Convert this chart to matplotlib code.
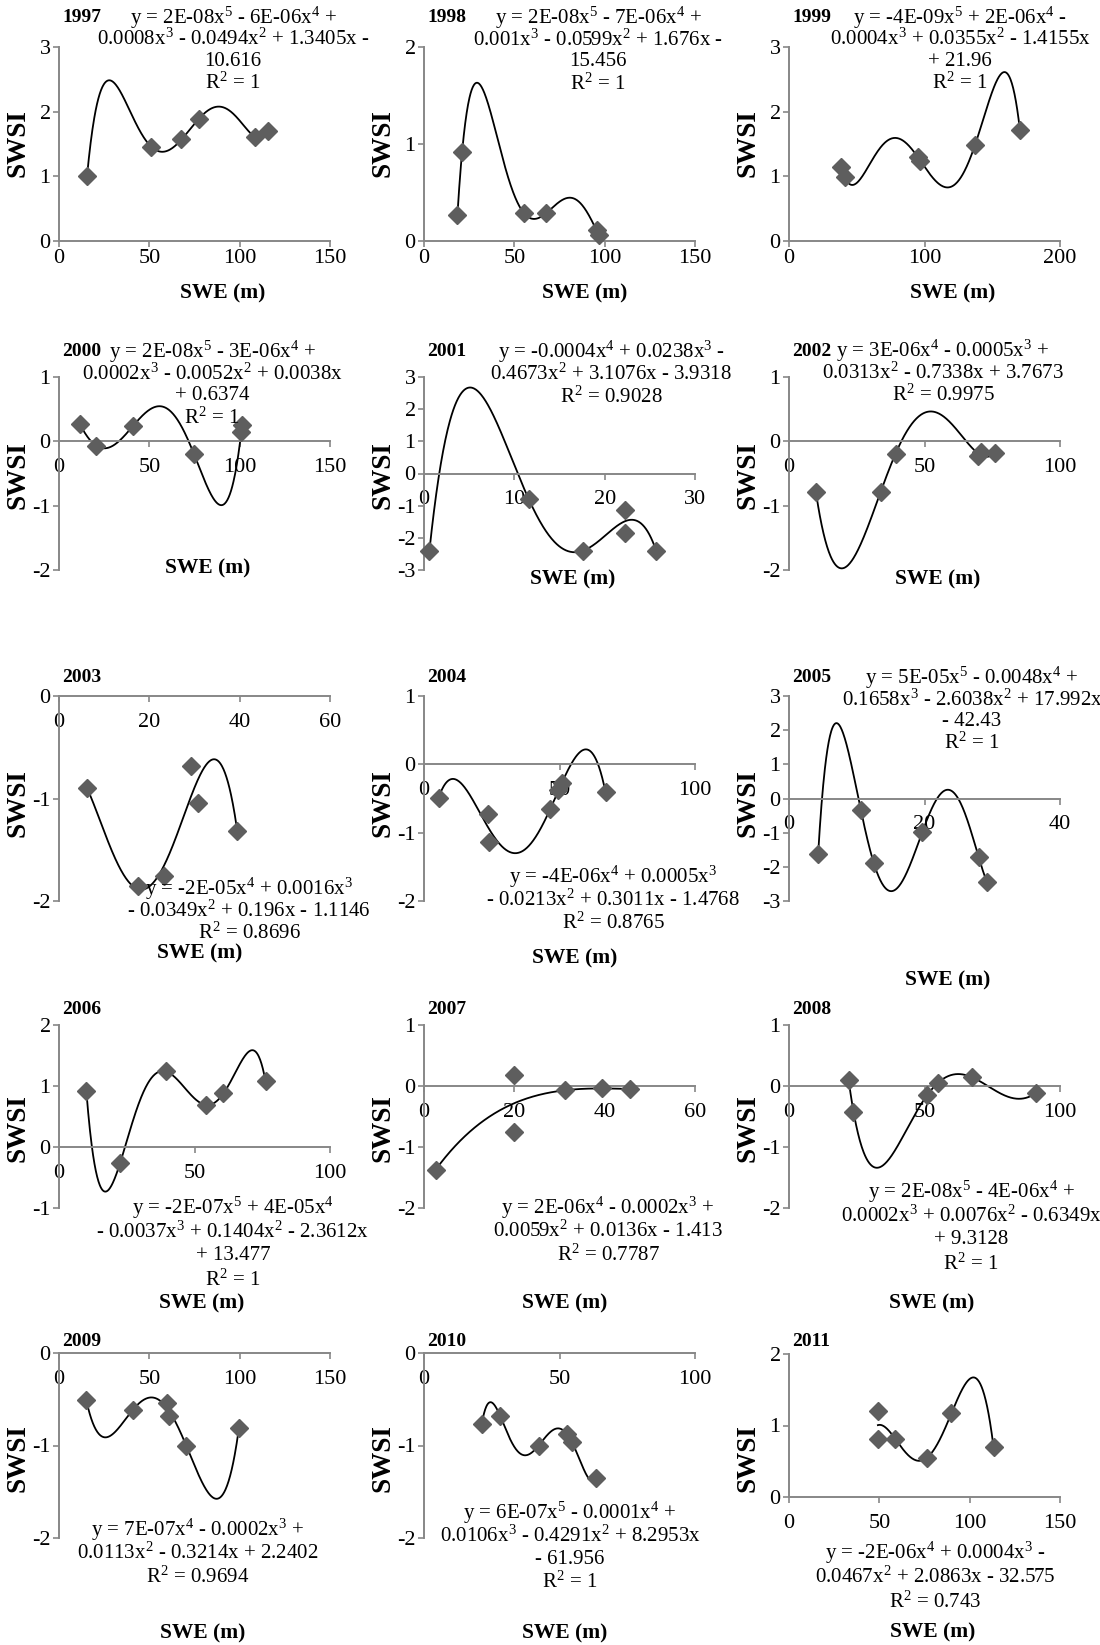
import numpy as np
import matplotlib
matplotlib.use('Agg')
import matplotlib.pyplot as plt
from numpy.polynomial import Polynomial

plt.rcParams['font.family'] = ['Liberation Serif', 'DejaVu Serif']
plt.rcParams['mathtext.fontset'] = 'custom'
plt.rcParams['mathtext.rm'] = 'Liberation Serif'
plt.rcParams['mathtext.it'] = 'Liberation Serif:italic'
plt.rcParams['mathtext.bf'] = 'Liberation Serif:bold'
plt.rcParams['axes.unicode_minus'] = False

# values: SWE (m) and SWSI per year
years = ['1997', '1998', '1999', '2000', '2001', '2002', '2003', '2004',
         '2005', '2006', '2007', '2008', '2009', '2010', '2011']

swe_1997 = [15.5, 51.0, 67.8, 77.4, 108.4, 115.8]
swsi_1997 = [1.00, 1.46, 1.57, 1.89, 1.61, 1.70]
swe_1998 = [18.5, 21.1, 55.2, 67.8, 95.5, 96.8]
swsi_1998 = [0.27, 0.92, 0.29, 0.29, 0.11, 0.06]
swe_1999 = [38.7, 41.1, 95.0, 97.0, 137.2, 170.4]
swsi_1999 = [1.14, 0.99, 1.30, 1.24, 1.48, 1.72]
swe_2000 = [11.5, 20.7, 41.0, 74.6, 100.9, 101.3]
swsi_2000 = [0.27, -0.07, 0.24, -0.19, 0.15, 0.25]
swe_2001 = [0.6, 11.6, 17.6, 22.2, 22.2, 25.7]
swsi_2001 = [-2.40, -0.80, -2.40, -1.13, -1.85, -2.40]
swe_2002 = [9.9, 33.9, 39.3, 69.8, 71.0, 76.0]
swsi_2002 = [-0.78, -0.78, -0.19, -0.23, -0.17, -0.18]
swe_2003 = [6.2, 17.5, 23.2, 29.3, 30.8, 39.5]
swsi_2003 = [-0.90, -1.85, -1.76, -0.68, -1.04, -1.32]
swe_2004 = [5.4, 23.6, 23.9, 46.4, 49.5, 51.0, 67.0]
swsi_2004 = [-0.49, -0.73, -1.13, -0.66, -0.38, -0.28, -0.41]
swe_2005 = [4.3, 10.6, 12.5, 19.7, 28.0, 29.2]
swsi_2005 = [-1.63, -0.33, -1.88, -0.97, -1.72, -2.43]
swe_2006 = [10.1, 22.5, 39.3, 54.3, 60.7, 76.2]
swsi_2006 = [0.91, -0.27, 1.24, 0.69, 0.88, 1.08]
swe_2007 = [2.6, 19.9, 19.9, 31.2, 39.4, 45.5]
swsi_2007 = [-1.37, 0.18, -0.75, -0.07, -0.04, -0.05]
swe_2008 = [22.0, 23.8, 50.9, 54.8, 67.7, 91.0]
swsi_2008 = [0.10, -0.42, -0.155, 0.045, 0.14, -0.12]
swe_2009 = [15.1, 40.7, 59.7, 60.9, 70.5, 99.6]
swsi_2009 = [-0.51, -0.62, -0.54, -0.68, -1.00, -0.81]
swe_2010 = [21.3, 28.1, 42.3, 52.7, 54.5, 63.6]
swsi_2010 = [-0.77, -0.68, -1.00, -0.875, -0.96, -1.35]
swe_2011 = [49.2, 49.2, 58.9, 76.4, 89.9, 113.2]
swsi_2011 = [1.20, 0.81, 0.81, 0.55, 1.17, 0.70]

swe = [swe_1997, swe_1998, swe_1999, swe_2000, swe_2001, swe_2002, swe_2003,
       swe_2004, swe_2005, swe_2006, swe_2007, swe_2008, swe_2009, swe_2010, swe_2011]
swsi = [swsi_1997, swsi_1998, swsi_1999, swsi_2000, swsi_2001, swsi_2002, swsi_2003,
        swsi_2004, swsi_2005, swsi_2006, swsi_2007, swsi_2008, swsi_2009, swsi_2010, swsi_2011]

degree = [5, 5, 5, 5, 4, 4, 4, 4, 5, 5, 4, 5, 4, 5, 4]

x_max = [150, 150, 200, 150, 30, 100, 60, 100, 40, 100, 60, 100, 150, 100, 150]
x_step = [50, 50, 100, 50, 10, 50, 20, 50, 20, 50, 20, 50, 50, 50, 50]
y_lim = [(0, 3), (0, 2), (0, 3), (-2, 1), (-3, 3), (-2, 1), (-2, 0), (-2, 1),
         (-3, 3), (-1, 2), (-2, 1), (-2, 1), (-2, 0), (-2, 0), (0, 2)]

equations = [
    ["y = 2E-08x$^5$ - 6E-06x$^4$ +", "0.0008x$^3$ - 0.0494x$^2$ + 1.3405x -", "10.616", "R$^2$ = 1"],
    ["y = 2E-08x$^5$ - 7E-06x$^4$ +", "0.001x$^3$ - 0.0599x$^2$ + 1.676x -", "15.456", "R$^2$ = 1"],
    ["y = -4E-09x$^5$ + 2E-06x$^4$ -", "0.0004x$^3$ + 0.0355x$^2$ - 1.4155x", "+ 21.96", "R$^2$ = 1"],
    ["y = 2E-08x$^5$ - 3E-06x$^4$ +", "0.0002x$^3$ - 0.0052x$^2$ + 0.0038x", "+ 0.6374", "R$^2$ = 1"],
    ["y = -0.0004x$^4$ + 0.0238x$^3$ -", "0.4673x$^2$ + 3.1076x - 3.9318", "R$^2$ = 0.9028"],
    ["y = 3E-06x$^4$ - 0.0005x$^3$ +", "0.0313x$^2$ - 0.7338x + 3.7673", "R$^2$ = 0.9975"],
    ["y = -2E-05x$^4$ + 0.0016x$^3$", "- 0.0349x$^2$ + 0.196x - 1.1146", "R$^2$ = 0.8696"],
    ["y = -4E-06x$^4$ + 0.0005x$^3$", "- 0.0213x$^2$ + 0.3011x - 1.4768", "R$^2$ = 0.8765"],
    ["y = 5E-05x$^5$ - 0.0048x$^4$ +", "0.1658x$^3$ - 2.6038x$^2$ + 17.992x", "- 42.43", "R$^2$ = 1"],
    ["y = -2E-07x$^5$ + 4E-05x$^4$", "- 0.0037x$^3$ + 0.1404x$^2$ - 2.3612x", "+ 13.477", "R$^2$ = 1"],
    ["y = 2E-06x$^4$ - 0.0002x$^3$ +", "0.0059x$^2$ + 0.0136x - 1.413", "R$^2$ = 0.7787"],
    ["y = 2E-08x$^5$ - 4E-06x$^4$ +", "0.0002x$^3$ + 0.0076x$^2$ - 0.6349x", "+ 9.3128", "R$^2$ = 1"],
    ["y = 7E-07x$^4$ - 0.0002x$^3$ +", "0.0113x$^2$ - 0.3214x + 2.2402", "R$^2$ = 0.9694"],
    ["y = 6E-07x$^5$ - 0.0001x$^4$ +", "0.0106x$^3$ - 0.4291x$^2$ + 8.2953x", "- 61.956", "R$^2$ = 1"],
    ["y = -2E-06x$^4$ + 0.0004x$^3$ -", "0.0467x$^2$ + 2.0863x - 32.575", "R$^2$ = 0.743"],
]

# layout in pixels of the 1100 x 1645 picture
W, H = 1100, 1645
col_left = [59, 424, 789]
ax_w = 271
top_bot = [(47, 241)] * 3 + [(377, 570)] * 3 + [(696, 901)] * 3 + [(1025, 1208)] * 3 \
    + [(1353, 1538), (1353, 1538), (1354, 1497)]
eq_pos = [(233, 18, 21.7), (598, 18, 22), (960, 18, 21.7),
          (212, 352, 22), (611, 352, 22.5), (943, 351, 22),
          (249, 889, 22), (613, 877, 23), (972, 678, 21.7),
          (233, 1208, 24), (608, 1208, 23.5), (971, 1192, 24),
          (198, 1530, 23.5), (570, 1513, 23), (935, 1553, 24.5)]
swe_pos = [(223, 293), (585, 293), (953, 293),
           (208, 568), (573, 579), (938, 579),
           (200, 953), (575, 958), (948, 980),
           (202, 1303), (565, 1303), (932, 1303),
           (203, 1633), (565, 1633), (933, 1632)]
year_y = [18, 352, 678, 1010, 1342]
swsi_y = [143, 475, 803, 1128, 1458]

axis_grey = '#878787'
fs_tick = 16
fs_eq = 15

fig = plt.figure(figsize=(11, 16.45), dpi=100)

for i, yr in enumerate(years):
    r, c = divmod(i, 3)
    left = col_left[c]
    top, bot = top_bot[i]
    ax = fig.add_axes([left / W, 1 - bot / H, ax_w / W, (bot - top) / H])
    ax.patch.set_visible(False)

    x = np.array(swe[i])
    y = np.array(swsi[i])
    p = Polynomial.fit(x, y, degree[i])
    xs = np.linspace(x.min(), x.max(), 400)
    ax.plot(xs, p(xs), color='black', lw=1.3, zorder=2, clip_on=False)
    ax.plot(x, y, 'D', color='#5e5e5e', ms=9, mec='#5e5e5e', zorder=3, clip_on=False)

    ax.set_xlim(0, x_max[i])
    ax.set_ylim(*y_lim[i])
    ax.set_xticks(np.arange(0, x_max[i] + 1, x_step[i]))
    ax.set_yticks(np.arange(y_lim[i][0], y_lim[i][1] + 1, 1))

    for s in ['top', 'right']:
        ax.spines[s].set_visible(False)
    ax.spines['bottom'].set_position(('data', 0))
    for s in ['bottom', 'left']:
        ax.spines[s].set_color(axis_grey)
        ax.spines[s].set_linewidth(1.4)
    xpad = 2 if r == 0 else 8
    ax.tick_params(axis='x', direction='out', length=4, width=1.2, color=axis_grey,
                   labelsize=fs_tick, pad=xpad)
    ax.tick_params(axis='y', direction='out', length=4, width=1.2, color=axis_grey,
                   labelsize=fs_tick, pad=2)

    # year, axis titles and trendline label
    fig.text((left + 3) / W, 1 - year_y[r] / H, yr, fontsize=14, fontweight='bold',
             ha='left', va='center')
    fig.text((left - 41) / W, 1 - swsi_y[r] / H, 'SWSI', fontsize=19.5, fontweight='bold',
             rotation=90, ha='center', va='center')
    fig.text(swe_pos[i][0] / W, 1 - swe_pos[i][1] / H, 'SWE (m)', fontsize=15.5,
             fontweight='bold', ha='center', va='center')
    cx, y0, dy = eq_pos[i]
    for k, line in enumerate(equations[i]):
        fig.text(cx / W, 1 - (y0 + k * dy) / H, line, fontsize=fs_eq,
                 ha='center', va='center')

fig.savefig('out.png', dpi=100)
